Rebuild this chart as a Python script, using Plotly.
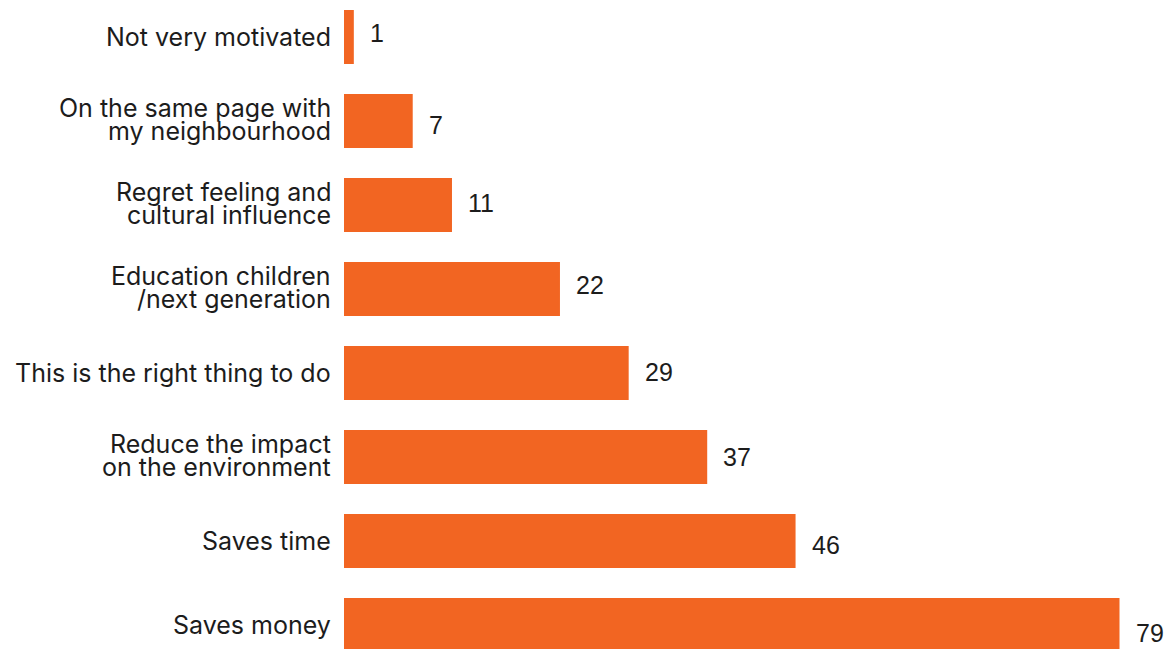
import plotly.graph_objects as go

# Survey: reasons that motivate the behaviour (share of respondents)
categories = [
    "Saves money",
    "Saves time",
    "Reduce the impact<br>on the environment",
    "This is the right thing to do",
    "Education children<br>/next generation",
    "Regret feeling and<br>cultural influence",
    "On the same page with<br>my neighbourhood",
    "Not very motivated",
]
values = [79, 46, 37, 29, 22, 11, 7, 1]

# small vertical nudges (px) for the value labels
value_label_nudges = [-8, -4, 0, 1, 4, 2, -4, 4]

BAR_COLOR = "#F26522"
TEXT_COLOR = "#1c1c1c"
LABEL_FONT = "Inter, Roboto, sans-serif"
VALUE_FONT = "Liberation Sans, Arial, sans-serif"
LINE_GAP = 23  # px between lines of a wrapped category label

positions = list(range(len(categories)))

fig = go.Figure(
    go.Bar(
        x=values,
        y=positions,
        orientation="h",
        width=0.643,
        marker=dict(color=BAR_COLOR, line=dict(width=0)),
        hoverinfo="skip",
    )
)

annotations = []
# category labels, right-aligned against the axis, one annotation per line
for pos, label in zip(positions, categories):
    lines = label.split("<br>")
    n = len(lines)
    for i, line in enumerate(lines):
        shift = ((n - 1) / 2 - i) * LINE_GAP + (2 if n > 1 else 0)
        annotations.append(
            dict(
                x=0, y=pos, xref="x", yref="y",
                text=line, showarrow=False,
                xanchor="right", yanchor="middle",
                xshift=-11, yshift=shift,
                font=dict(family=LABEL_FONT, size=25, color=TEXT_COLOR),
            )
        )

# value labels just past the end of each bar
for pos, val, nudge in zip(positions, values, value_label_nudges):
    annotations.append(
        dict(
            x=val, y=pos, xref="x", yref="y",
            text=str(val), showarrow=False,
            xanchor="left", yanchor="middle",
            xshift=14, yshift=nudge,
            font=dict(family=VALUE_FONT, size=25, color=TEXT_COLOR),
        )
    )

fig.update_layout(
    width=1168,
    height=649,
    margin=dict(l=344, r=0, t=0, b=0),
    paper_bgcolor="white",
    plot_bgcolor="white",
    showlegend=False,
    annotations=annotations,
    xaxis=dict(range=[0, 83.94], visible=False, fixedrange=True),
    yaxis=dict(range=[-0.2857, 7.4405], visible=False, fixedrange=True),
)

fig.write_html("out.html", config={"displayModeBar": False})
